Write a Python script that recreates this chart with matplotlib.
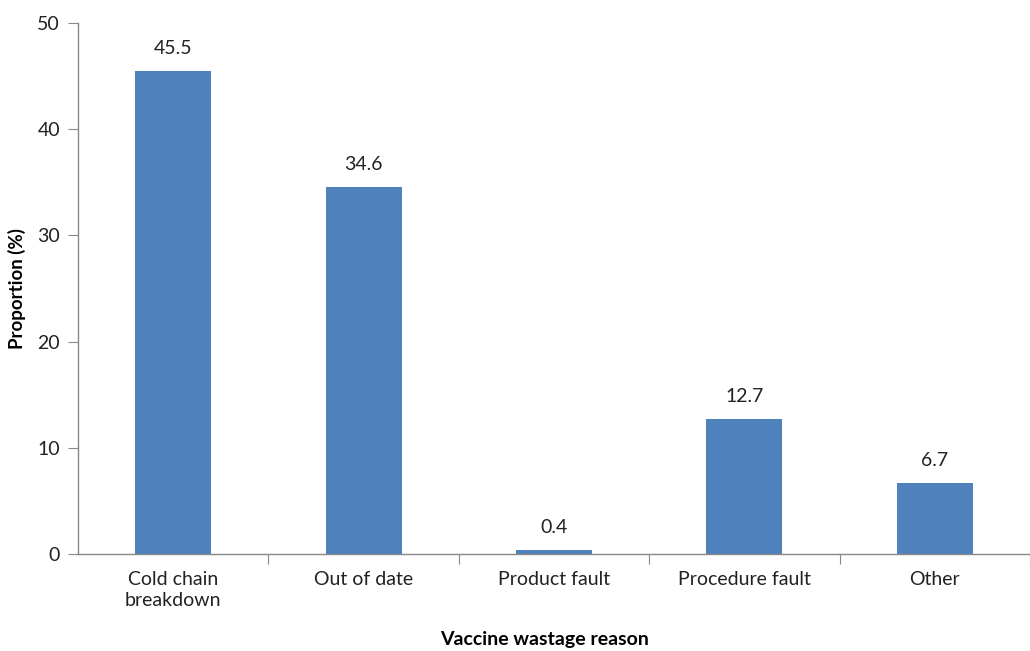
import matplotlib
matplotlib.use("Agg")
from matplotlib import pyplot as plt

categorias = ["Cold chain\nbreakdown", "Out of date", "Product fault", "Procedure fault", "Other"]
proporcion = [45.5, 34.6, 0.4, 12.7, 6.7]
ticksY = [0, 10, 20, 30, 40, 50]

plt.rcParams['font.family'] = ['Lato', 'DejaVu Sans']

fig = plt.figure(figsize=(10.30, 6.51), dpi=100)
ax = fig.add_axes([78 / 1030, 1 - 554 / 651, (1030 - 78) / 1030, (554 - 23) / 651])

pos = list(range(len(categorias)))
ax.bar(pos, proporcion, width=0.4, color='#4F81BD', zorder=2)

# Etiquetas de valor sobre cada barra
for x, v in zip(pos, proporcion):
    ax.text(x, v + 1.3, f"{v}", ha='center', va='bottom', fontsize=14, color='#222222')

# ancho de categoria ~192.5 px
ax.set_xlim(-0.5, -0.5 + (1030 - 78) / 192.5)
ax.set_ylim(0, 50)
ax.set_yticks(ticksY)
ax.tick_params(axis='y', direction='out', length=7, color='#888888', labelsize=14, pad=6, labelcolor='#222222')

# Marcas del eje x entre categorias
ax.set_xticks([p + 0.5 for p in pos])
ax.set_xticklabels([])
ax.tick_params(axis='x', direction='out', length=7, color='#888888')
ax.set_xticks(pos, minor=True)
ax.set_xticklabels(categorias, minor=True, fontsize=14, color='#222222', linespacing=1.3)
ax.tick_params(axis='x', which='minor', length=0, pad=12)

for lado in ['top', 'right']:
    ax.spines[lado].set_visible(False)
for lado in ['left', 'bottom']:
    ax.spines[lado].set_color('#888888')
    ax.spines[lado].set_linewidth(1.0)

ax.set_ylabel('Proportion (%)', fontsize=13.5, fontweight='bold', labelpad=8)
fig.text(545 / 1030, 1 - 640 / 651, 'Vaccine wastage reason', ha='center', va='center', fontsize=14, fontweight='bold')

fig.savefig('out.png', dpi=100)
